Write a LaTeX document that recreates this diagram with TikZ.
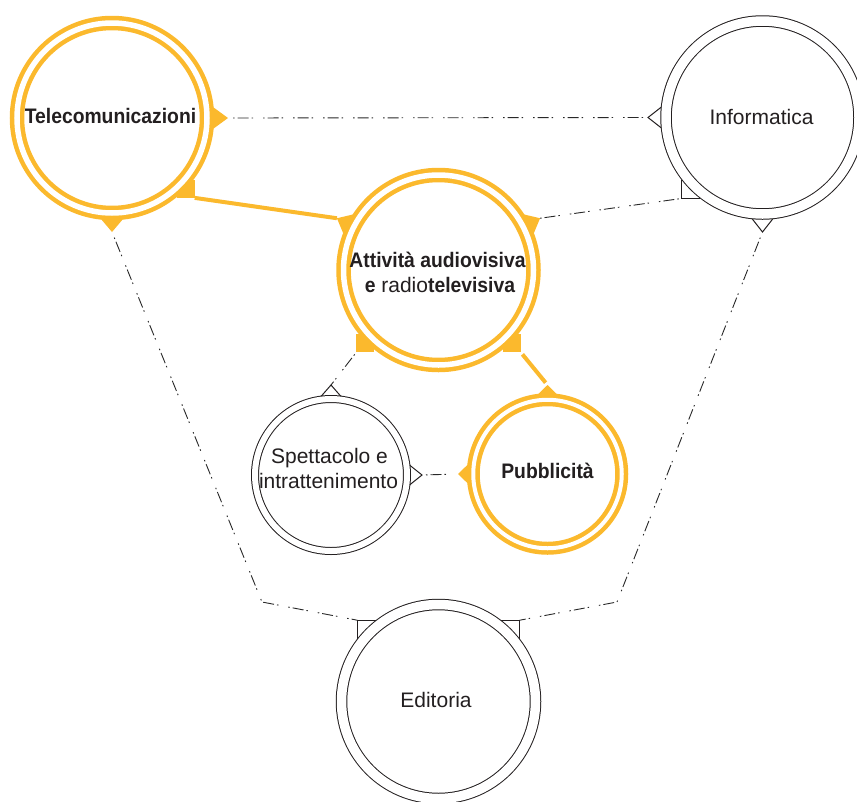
\documentclass[tikz,border=0pt]{standalone}
\usepackage{fontspec}
\setmainfont{Liberation Sans}[BoldFeatures={FakeStretch=0.92}]
\usetikzlibrary{calc}

\definecolor{ocra}{RGB}{251,185,45}
\definecolor{ink}{RGB}{35,31,32}
\definecolor{wire}{RGB}{40,40,40}

\pgfdeclarelayer{bg}
\pgfsetlayers{bg,main}

% triangular marker: style, node, tip name, angle, tip distance, ring edge radius, half angle
\newcommand{\tipmark}[7]{%
  \coordinate (#3) at ($(#2)+({#4}:{#5})$);
  \path[#1] (#3) -- ($(#2)+({#4+#7}:{#6})$) -- ($(#2)+({#4}:{#6-12})$)
    -- ($(#2)+({#4-#7}:{#6})$) -- cycle;}
% square corner marker: style, node, corner name, angle, distance, dx, dy
\newcommand{\cornermark}[7]{%
  \coordinate (#3) at ($(#2)+({#4}:{#5})$);
  \path[#1] (#3) rectangle ++(#6,#7);}

\tikzset{
  yring/.style={circle, inner sep=0pt, draw=ocra, line width=4.5pt,
    double=white, double distance=#1, fill=white},
  kring/.style={circle, inner sep=0pt, draw=ink, line width=1pt,
    double=white, double distance=#1, fill=white},
  txt/.style={anchor=base, inner sep=0pt, text=ink,
    font=\fontsize{21pt}{25pt}\selectfont},
  ymark/.style={fill=ocra},
  kmark/.style={draw=ink, fill=white, line width=1pt, line join=miter},
  link/.style={draw=wire, line width=0.9pt,
    dash pattern=on 1.5pt off 3pt on 11pt off 3pt on 1.5pt off 10pt},
  strong/.style={draw=ocra, line width=4pt},
}

\begin{document}
\begin{tikzpicture}[x=1pt, y=1pt]
\useasboundingbox (0,0) rectangle (857,-801);

% rings
\node[yring=5.5pt, minimum size=190pt] (tel) at (112,-118) {};
\node[yring=5.5pt, minimum size=190pt] (att) at (438.5,-270) {};
\node[kring=9.5pt, minimum size=193pt] (inf) at (762.5,-117.5) {};
\node[kring=6pt, minimum size=152pt] (spe) at (331,-475) {};
\node[yring=4pt, minimum size=148.5pt] (pub) at (547.5,-474) {};
\node[kring=9.5pt, minimum size=194pt] (edi) at (438.5,-701.5) {};

% labels
\node[txt] (tel-txt) at (110.5,-123) {\bfseries Telecomunicazioni};
\node[txt] (inf-txt) at (761.5,-124) {Informatica};
\node[txt] (att-txt1) at (437.5,-267) {\bfseries Attività audiovisiva};
\node[txt] (att-txt2) at (440,-292) {\textbf{e} radio\textbf{televisiva}};
\node[txt] (spe-txt1) at (329.5,-463) {Spettacolo e};
\node[txt] (spe-txt2) at (328.5,-488) {intrattenimento};
\node[txt] (pub-txt) at (547.5,-478) {\bfseries Pubblicità};
\node[txt] (edi-txt) at (436,-707) {Editoria};

\coordinate (bendL) at (262,-602);
\coordinate (bendR) at (617,-602);

\begin{pgfonlayer}{bg}
  % markers
  \tipmark{ymark}{tel}{tel-r}{0}{116}{102}{6}
  \tipmark{ymark}{tel}{tel-b}{-90}{114}{102}{6}
  \cornermark{ymark}{tel}{tel-lr}{-44}{115}{-18}{18}

  \tipmark{ymark}{att}{att-ul}{153}{114}{102}{6}
  \tipmark{ymark}{att}{att-ur}{27}{114}{102}{6}
  \cornermark{ymark}{att}{att-ll}{-135}{116}{18}{18}
  \cornermark{ymark}{att}{att-lr}{-45}{116}{-18}{18}

  \tipmark{kmark}{inf}{inf-l}{180}{114.5}{101.5}{6}
  \tipmark{kmark}{inf}{inf-b}{-90}{114.5}{101.5}{6}
  \cornermark{kmark}{inf}{inf-ll}{-135}{114.5}{18}{18}

  \tipmark{kmark}{spe}{spe-t}{90}{90}{79.5}{7}
  \tipmark{kmark}{spe}{spe-r}{0}{91}{79.5}{7}

  \tipmark{ymark}{pub}{pub-t}{90}{89}{80}{7}
  \tipmark{ymark}{pub}{pub-l}{180}{89.5}{80}{7}

  \cornermark{kmark}{edi}{edi-ul}{135}{115}{18}{-18}
  \cornermark{kmark}{edi}{edi-ur}{45}{115}{-18}{-18}

  % connectors
  \draw[link, shorten <=5pt, shorten >=5pt] (tel-r) -- (inf-l);
  \draw[link, shorten <=6pt] (tel-b) -- (bendL) -- (edi-ul);
  \draw[link, shorten <=6pt] (inf-b) -- (bendR) -- (edi-ur);
  \draw[link] (att-ur) -- (inf-ll);
  \draw[link, shorten <=3pt] (att-ll) -- (spe-t);
  \draw[link, shorten <=4pt, shorten >=4pt] (spe-r) -- (pub-l);
  \draw[strong] (tel-lr) -- (att-ul);
  \draw[strong, shorten <=3pt, shorten >=3pt] (att-lr) -- (pub-t);
\end{pgfonlayer}
\end{tikzpicture}
\end{document}
